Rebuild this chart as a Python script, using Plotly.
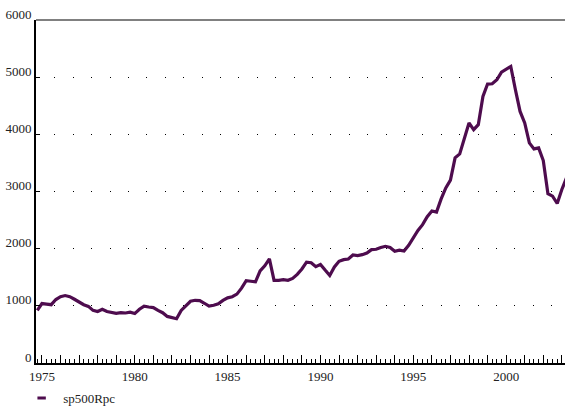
# Quarterly real per-capita S&P 500 series, drawn in the old EViews style
import plotly.graph_objects as go

# first observation is 1974Q4, one value per quarter
start_year = 1974.75
sp500_rpc = [
    920, 1040, 1030, 1020, 1110, 1160, 1180, 1160, 1115, 1060,
    1020, 990, 920, 900, 940, 900, 880, 870, 880, 875,
    890, 865, 940, 995, 980, 970, 920, 880, 815, 790,
    775, 920, 995, 1080, 1097, 1092, 1045, 995, 1010, 1035,
    1095, 1140, 1160, 1205, 1310, 1440, 1430, 1420, 1610, 1700,
    1820, 1446, 1446, 1458, 1446, 1480, 1550, 1645, 1765, 1755,
    1685, 1725, 1625, 1530, 1680, 1780, 1808, 1820, 1890, 1880,
    1895, 1925, 1983, 1990, 2020, 2041, 2020, 1955, 1975, 1960,
    2060, 2200, 2320, 2420, 2560, 2660, 2640, 2870, 3062, 3200,
    3588, 3658, 3907, 4199, 4082, 4169, 4663, 4880, 4885, 4955,
    5089, 5141, 5187, 4780, 4401, 4199, 3850, 3745, 3763, 3541,
    2960, 2918, 2790, 3035, 3239,
]
quarters = [start_year + 0.25 * i for i in range(len(sp500_rpc))]

year_ticks = list(range(1975, 2004))
year_labels = [str(y) if y % 5 == 0 else "" for y in year_ticks]
y_ticks = [0, 1000, 2000, 3000, 4000, 5000, 6000]

LINE_COLOR = "#4e0c4e"
FONT = "Times New Roman"


def create_figure():
    fig = go.Figure()

    # the series itself
    fig.add_trace(
        go.Scatter(
            x=quarters,
            y=sp500_rpc,
            mode="lines",
            line=dict(color=LINE_COLOR, width=3.2),
            showlegend=False,
        )
    )
    # legend entry: EViews shows a short thick dash, not a long line
    fig.add_trace(
        go.Scatter(
            x=[None],
            y=[None],
            mode="markers",
            name="sp500Rpc",
            marker=dict(symbol="line-ew", size=6, line=dict(color=LINE_COLOR, width=3)),
        )
    )

    fig.update_layout(
        width=565,
        height=406,
        margin=dict(l=36, r=0, t=20, b=43, autoexpand=False),
        paper_bgcolor="white",
        plot_bgcolor="white",
        font=dict(family=FONT, size=13, color="#222"),
        legend=dict(
            x=-0.03,
            y=-0.102,
            xanchor="left",
            yanchor="middle",
            font=dict(family=FONT, size=13, color="#222"),
            itemwidth=33,
            bgcolor="rgba(0,0,0,0)",
        ),
    )

    fig.update_xaxes(
        range=[1974.68, 2003.17],
        automargin=False,
        tickvals=year_ticks,
        ticktext=year_labels,
        ticks="inside",
        ticklen=8,
        tickwidth=1,
        tickcolor="#000",
        minor=dict(dtick=0.25, tick0=1975, ticks="inside", ticklen=4, tickcolor="#000", showgrid=False),
        showline=True,
        linecolor="#000",
        linewidth=2,
        showgrid=False,
        zeroline=False,
    )
    fig.update_yaxes(
        range=[0, 6000],
        automargin=False,
        tickvals=y_ticks,
        ticks="inside",
        ticklen=4,
        tickcolor="#000",
        ticklabelshift=-6,
        showline=True,
        linecolor="#000",
        linewidth=2,
        showgrid=True,
        gridcolor="#000",
        gridwidth=1,
        griddash="1px,17.4px",
        zeroline=False,
    )

    # grey frame line along the top of the plot area
    fig.add_shape(
        type="line",
        xref="paper",
        yref="paper",
        x0=0,
        x1=1,
        y0=1,
        y1=1,
        line=dict(color="#808080", width=2),
    )

    # drop the default page margin so the figure sits at the window's corner
    fig.write_html(
        "out.html",
        config={"displayModeBar": False},
        post_script="document.body.style.margin='0';document.body.style.overflow='hidden';",
    )


def main():
    create_figure()


if __name__ == "__main__":
    main()
